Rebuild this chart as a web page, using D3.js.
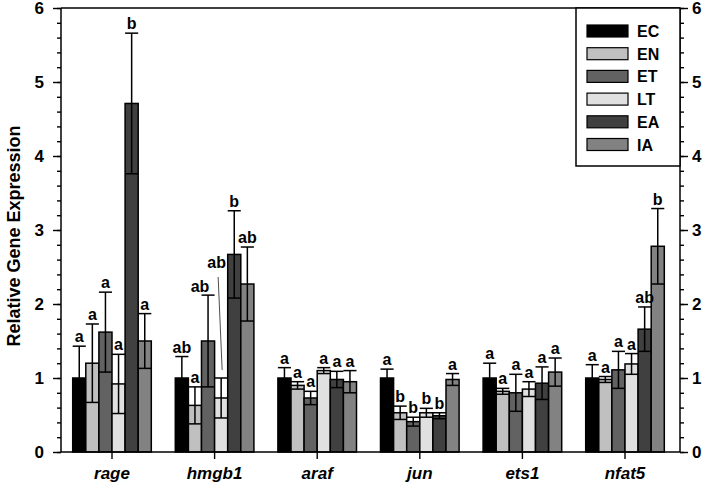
<!DOCTYPE html>
<html><head><meta charset="utf-8">
<script src="https://cdn.jsdelivr.net/npm/d3@7"></script>
<style>body{margin:0;background:#fff}svg{display:block}text{font-family:"Liberation Sans",Arial,sans-serif;font-weight:bold}</style>
</head><body><svg id="c" width="702" height="493"></svg>
<script>
const genes = ["rage","hmgb1","araf","jun","ets1","nfat5"];
const groups = ["EC","EN","ET","LT","EA","IA"];
const colors = ["#000000","#c0c0c0","#626262","#e0e0e0","#404040","#828282"];
const means = {
  EC:[1.00,1.00,1.00,1.00,1.00,1.00],
  EN:[1.20,0.63,0.90,0.53,0.82,0.98],
  ET:[1.62,1.50,0.73,0.41,0.80,1.11],
  LT:[0.92,0.73,1.10,0.53,0.85,1.19],
  EA:[4.71,2.67,0.98,0.49,0.93,1.66],
  IA:[1.50,2.27,0.95,0.98,1.08,2.78]
};
const sds = {
  EC:[0.43,0.29,0.14,0.12,0.20,0.18],
  EN:[0.53,0.25,0.05,0.09,0.04,0.04],
  ET:[0.54,0.62,0.09,0.06,0.25,0.25],
  LT:[0.40,0.27,0.04,0.06,0.10,0.14],
  EA:[0.95,0.59,0.11,0.04,0.22,0.30],
  IA:[0.37,0.50,0.15,0.08,0.19,0.51]
};
const letters = {
  EC:["a","ab","a","a","a","a"],
  EN:["a","a","a","b","a","a"],
  ET:["a","ab","a","b","a","a"],
  LT:["a","ab","a","b","a","a"],
  EA:["b","b","a","b","a","ab"],
  IA:["a","ab","a","a","a","b"]
};
const yTicks = [0,1,2,3,4,5,6];
const yTitle = "Relative Gene Expression";

const svg = d3.select("#c");
const L = 61, R = 680, T = 8, B = 452;
const y = d3.scaleLinear().domain([0,6]).range([B,T]);
const x0 = d3.scaleBand().domain(genes).range([60.7,676.3]);
const groupW = 78.6;
const x1 = d3.scaleBand().domain(groups).range([(x0.bandwidth()-groupW)/2,(x0.bandwidth()+groupW)/2]);
const bw = x1.bandwidth();

const data = [];
genes.forEach((g,gi)=>groups.forEach((s,si)=>data.push({g,s,si,m:means[s][gi],sd:sds[s][gi],lab:letters[s][gi]})));

// bars
const bars = svg.append("g");
bars.selectAll("rect").data(data).join("rect")
  .attr("x",d=>x0(d.g)+x1(d.s)).attr("y",d=>y(d.m))
  .attr("width",bw).attr("height",d=>y(0)-y(d.m))
  .attr("fill",d=>colors[d.si]).attr("stroke","#000").attr("stroke-width",1.5);

// error bars
const eb = svg.append("g").attr("stroke","#000").attr("stroke-width",1.5);
data.forEach(d=>{
  const cx = x0(d.g)+x1(d.s)+bw/2;
  const yt = y(d.m+d.sd), yb = y(Math.max(0,d.m-d.sd));
  eb.append("line").attr("x1",cx).attr("x2",cx).attr("y1",yt).attr("y2",yb);
  eb.append("line").attr("x1",cx-bw/2).attr("x2",cx+bw/2).attr("y1",yt).attr("y2",yt);
  eb.append("line").attr("x1",cx-bw/2).attr("x2",cx+bw/2).attr("y1",yb).attr("y2",yb);
});

// significance letters
const lg = svg.append("g");
data.forEach(d=>{
  const cx = x0(d.g)+x1(d.s)+bw/2;
  const yt = y(d.m+d.sd);
  let dx = 0, dy = -4;
  if(d.g==="hmgb1" && d.s==="LT"){ dx=-4.5; dy=-110;
    svg.append("line").attr("x1",cx-3).attr("y1",yt-101).attr("x2",cx+1).attr("y2",yt-8)
      .attr("stroke","#000").attr("stroke-width",0.7);
  }
  if(d.g==="hmgb1" && d.s==="ET"){ dx=-8; dy=-3; }
  lg.append("text").attr("x",cx+dx).attr("y",yt+dy).attr("text-anchor","middle")
    .attr("font-size",16).attr("fill","#000").text(d.lab);
});

// frame and axes
svg.append("line").attr("x1",L).attr("x2",R).attr("y1",T).attr("y2",T).attr("stroke","#000").attr("stroke-width",1.5);
svg.append("line").attr("x1",L).attr("x2",R).attr("y1",B).attr("y2",B).attr("stroke","#000").attr("stroke-width",1.5);

const minor = d3.range(0,6.001,0.2);
const yl = svg.append("g").attr("transform",`translate(${L},0)`)
  .call(d3.axisLeft(y).tickValues(minor).tickSize(4).tickFormat(""));
yl.selectAll("line,path").attr("stroke","#000").attr("stroke-width",1.4);
yl.select(".domain").attr("d",`M0,${B}V${T}`).attr("stroke-width",1.5);
const ylM = svg.append("g").attr("transform",`translate(${L},0)`)
  .call(d3.axisLeft(y).tickValues(yTicks).tickSize(8).tickPadding(9).tickFormat(d3.format("d")));
ylM.select(".domain").remove();
ylM.selectAll("line").attr("stroke","#000").attr("stroke-width",1.4);
ylM.selectAll("text").attr("font-size",17).attr("font-family","Liberation Sans, Arial").attr("font-weight","bold").attr("fill","#000");

const yr = svg.append("g").attr("transform",`translate(${R},0)`)
  .call(d3.axisRight(y).tickValues(minor).tickSize(4).tickFormat(""));
yr.selectAll("line,path").attr("stroke","#000").attr("stroke-width",1.4);
yr.select(".domain").attr("d",`M0,${B}V${T}`).attr("stroke-width",1.5);
const yrM = svg.append("g").attr("transform",`translate(${R},0)`)
  .call(d3.axisRight(y).tickValues(yTicks).tickSize(8).tickPadding(4).tickFormat(d3.format("d")));
yrM.select(".domain").remove();
yrM.selectAll("line").attr("stroke","#000").attr("stroke-width",1.4);
yrM.selectAll("text").attr("font-size",17).attr("font-family","Liberation Sans, Arial").attr("font-weight","bold").attr("fill","#000");

const xa = svg.append("g").attr("transform",`translate(0,${B})`)
  .call(d3.axisBottom(x0).tickSize(7).tickPadding(8));
xa.select(".domain").remove();
xa.selectAll("line").attr("stroke","#000").attr("stroke-width",1.4);
xa.selectAll("text").attr("font-size",17).attr("font-family","Liberation Sans, Arial").attr("font-weight","bold").attr("font-style","italic").attr("fill","#000");

svg.append("text").attr("transform","translate(20,236) rotate(-90)").attr("text-anchor","middle")
  .attr("font-size",18).text(yTitle);

// legend
const leg = svg.append("g");
leg.append("rect").attr("x",576).attr("y",T).attr("width",R-576).attr("height",158)
  .attr("fill","#fff").attr("stroke","#000").attr("stroke-width",1.5);
groups.forEach((s,i)=>{
  const cy = 31 + i*22.7;
  leg.append("rect").attr("x",587).attr("y",cy-6).attr("width",41).attr("height",12)
    .attr("fill",colors[i]).attr("stroke","#000").attr("stroke-width",1.2);
  leg.append("text").attr("x",637).attr("y",cy+6).attr("font-size",16).text(s);
});
</script></body></html>
